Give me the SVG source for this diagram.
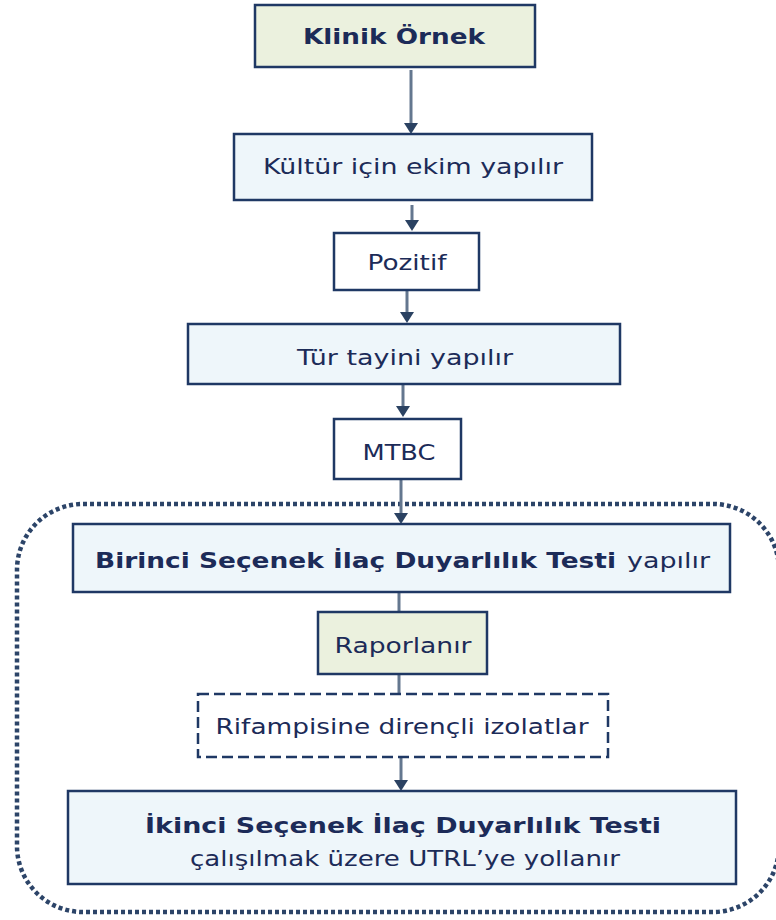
<svg xmlns="http://www.w3.org/2000/svg" width="776" height="920" viewBox="0 0 776 920">
<defs>
<marker id="ah" markerUnits="userSpaceOnUse" markerWidth="12" markerHeight="14" refX="0" refY="7" orient="auto" viewBox="0 0 12 14">
<path d="M0,0 L11,7 L0,14 Z" fill="#2b4262"/>
</marker>
<style>
.box{stroke:#1f3864;stroke-width:2.5}
.green{fill:#ebf1de}
.blue{fill:#eef6fa}
.white{fill:#ffffff}
.dash{fill:#ffffff;stroke:#1f3864;stroke-width:2.5;stroke-dasharray:11 5}
.t{font-family:"DejaVu Sans","Verdana",sans-serif;fill:#1c2b58;font-size:22px}
.b{font-weight:bold}
.conn{stroke:#64778f;stroke-width:3;fill:none}
.group{fill:none;stroke:#2c4468;stroke-width:4.5;stroke-dasharray:4 3}
</style>
</defs>
<rect width="776" height="920" fill="#ffffff"/>

<rect id="secondary-region" class="group" x="17" y="504" width="762" height="408" rx="66"/>

<g id="connectors">
<line class="conn" x1="411" y1="70" x2="411" y2="123" marker-end="url(#ah)"/>
<line class="conn" x1="412" y1="205" x2="412" y2="220" marker-end="url(#ah)"/>
<line class="conn" x1="407" y1="291" x2="407" y2="312" marker-end="url(#ah)"/>
<line class="conn" x1="403" y1="385" x2="403" y2="406" marker-end="url(#ah)"/>
<line class="conn" x1="401" y1="480" x2="401" y2="513" marker-end="url(#ah)"/>
<line class="conn" x1="399" y1="593" x2="399" y2="612"/>
<line class="conn" x1="399" y1="675" x2="399" y2="694"/>
<line class="conn" x1="401" y1="758" x2="401" y2="780" marker-end="url(#ah)"/>
</g>

<g id="klinik-ornek">
<rect class="box green" x="255" y="5" width="280" height="62"/>
<text class="t b" x="394" y="44" text-anchor="middle" textLength="182" lengthAdjust="spacingAndGlyphs">Klinik Örnek</text>
</g>

<g id="kultur">
<rect class="box blue" x="234" y="134" width="358" height="66"/>
<text class="t" x="413" y="174" text-anchor="middle" textLength="300" lengthAdjust="spacingAndGlyphs">Kültür için ekim yapılır</text>
</g>

<g id="pozitif">
<rect class="box white" x="334" y="233" width="145" height="57"/>
<text class="t" x="407" y="270" text-anchor="middle" textLength="79" lengthAdjust="spacingAndGlyphs">Pozitif</text>
</g>

<g id="tur-tayini">
<rect class="box blue" x="188" y="324" width="432" height="60"/>
<text class="t" x="405" y="365" text-anchor="middle" textLength="216" lengthAdjust="spacingAndGlyphs">Tür tayini yapılır</text>
</g>

<g id="mtbc">
<rect class="box white" x="334" y="419" width="127" height="60"/>
<text class="t" x="399" y="460" text-anchor="middle" textLength="73" lengthAdjust="spacingAndGlyphs">MTBC</text>
</g>

<g id="birinci">
<rect class="box blue" x="73" y="524" width="657" height="68"/>
<text class="t b" x="95" y="568" textLength="521" lengthAdjust="spacingAndGlyphs">Birinci Seçenek İlaç Duyarlılık Testi</text>
<text class="t" x="627" y="568" textLength="83" lengthAdjust="spacingAndGlyphs">yapılır</text>
</g>

<g id="raporlanir">
<rect class="box green" x="318" y="612" width="169" height="62"/>
<text class="t" x="403" y="653" text-anchor="middle" textLength="137" lengthAdjust="spacingAndGlyphs">Raporlanır</text>
</g>

<g id="rifampisine">
<rect class="dash" x="198" y="694" width="410" height="63"/>
<text class="t" x="402" y="734" text-anchor="middle" textLength="373" lengthAdjust="spacingAndGlyphs">Rifampisine dirençli izolatlar</text>
</g>

<g id="ikinci">
<rect class="box blue" x="68" y="791" width="668" height="93"/>
<text class="t b" x="403" y="833" text-anchor="middle" textLength="516" lengthAdjust="spacingAndGlyphs">İkinci Seçenek İlaç Duyarlılık Testi</text>
<text class="t" x="405" y="866" text-anchor="middle" textLength="430" lengthAdjust="spacingAndGlyphs">çalışılmak üzere UTRL’ye yollanır</text>
</g>
</svg>
